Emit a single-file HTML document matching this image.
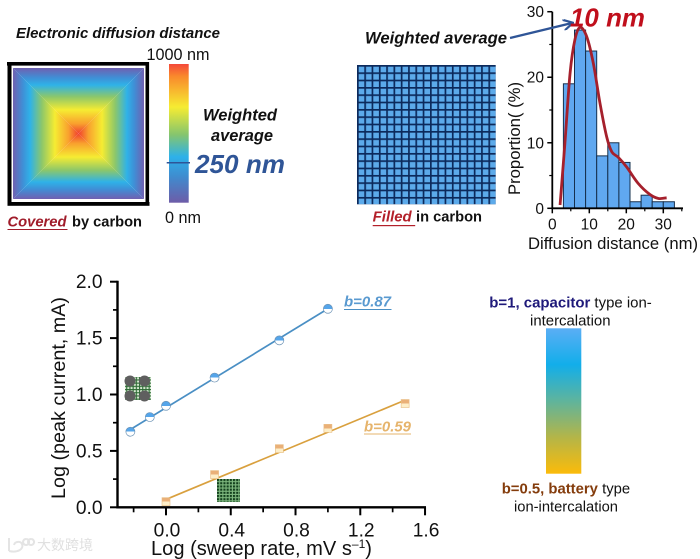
<!DOCTYPE html>
<html>
<head>
<meta charset="utf-8">
<style>
html,body{margin:0;padding:0;background:#fff;width:700px;height:559px;overflow:hidden}
svg{display:block}
text{font-family:"Liberation Sans","Noto Sans CJK SC",sans-serif;fill:#111}
.bi{font-weight:bold;font-style:italic}
.b{font-weight:bold}
</style>
</head>
<body>
<svg id="figure" xmlns="http://www.w3.org/2000/svg" width="700" height="559" viewBox="0 0 700 559">
<defs>
<linearGradient id="colorbar-grad" x1="0" y1="0" x2="0" y2="1">
<stop offset="0" stop-color="#f4483a"/><stop offset=".09" stop-color="#f98a2c"/><stop offset=".31" stop-color="#f6ec32"/><stop offset=".51" stop-color="#85c56e"/><stop offset=".67" stop-color="#2db1ea"/><stop offset=".81" stop-color="#3f8ccf"/><stop offset="1" stop-color="#6d5ca8"/>
</linearGradient>
<linearGradient id="sq-stops">
<stop offset="0" stop-color="#7060b0"/><stop offset=".15" stop-color="#3f8fd6"/><stop offset=".26" stop-color="#2fb2e8"/><stop offset=".44" stop-color="#8cc76a"/><stop offset=".64" stop-color="#f6ec32"/><stop offset=".85" stop-color="#f9a02e"/><stop offset="1" stop-color="#f0402f"/>
</linearGradient>
<linearGradient id="sq-top" href="#sq-stops" gradientUnits="userSpaceOnUse" x1="0" y1="68" x2="0" y2="133.5"/>
<linearGradient id="sq-bottom" href="#sq-stops" gradientUnits="userSpaceOnUse" x1="0" y1="199" x2="0" y2="133.5"/>
<linearGradient id="sq-left" href="#sq-stops" gradientUnits="userSpaceOnUse" x1="13" y1="0" x2="78.5" y2="0"/>
<linearGradient id="sq-right" href="#sq-stops" gradientUnits="userSpaceOnUse" x1="144" y1="0" x2="78.5" y2="0"/>
<linearGradient id="b-grad" x1="0" y1="0" x2="0" y2="1">
<stop offset="0" stop-color="#5aaef5"/><stop offset=".25" stop-color="#12aeea"/><stop offset=".5" stop-color="#5fb49c"/><stop offset=".75" stop-color="#b4b548"/><stop offset="1" stop-color="#fbbb0a"/>
</linearGradient>
<linearGradient id="half-blue" x1="0" y1="0" x2="0" y2="1">
<stop offset=".5" stop-color="#55a5ea"/><stop offset=".5" stop-color="#fff"/>
</linearGradient>
<linearGradient id="half-orange" x1="0" y1="0" x2="0" y2="1">
<stop offset=".5" stop-color="#eab078"/><stop offset=".5" stop-color="#fdeec8"/>
</linearGradient>
<pattern id="grid-cell" patternUnits="userSpaceOnUse" x="357" y="65" width="7.3" height="7.33">
<rect width="7.3" height="7.33" fill="#5caaea"/>
<rect x="0" y="0" width="7.3" height="1.7" fill="#0c2a5c"/>
<rect x="0" y="0" width="1.7" height="7.33" fill="#0c2a5c"/>
</pattern>
<pattern id="dot-cell" patternUnits="userSpaceOnUse" x="217" y="479" width="3.2" height="3.2">
<rect width="3.2" height="3.2" fill="#7fb97f"/>
<rect width="2.1" height="2.1" fill="#123f1c"/>
</pattern>
<pattern id="mesh-cell" patternUnits="userSpaceOnUse" x="123" y="373" width="3.2" height="3.2">
<rect width="3.2" height="3.2" fill="#d5e8d0"/>
<rect width="3.2" height="1.1" fill="#2e6b35"/>
<rect width="1.1" height="3.2" fill="#2e6b35"/>
</pattern>
<marker id="arrow-head" viewBox="0 0 10 10" refX="8" refY="5" markerWidth="11" markerHeight="11" orient="auto" markerUnits="userSpaceOnUse">
<path d="M0 0L9 5L0 10" fill="none" stroke="#2f5597" stroke-width="2"/>
</marker>
</defs>
<rect width="700" height="559" fill="#fff"/>

<!-- Covered panel -->
<text class="bi" x="16" y="38" font-size="14.9" textLength="204" lengthAdjust="spacingAndGlyphs">Electronic diffusion distance</text>
<g>
<polygon points="13,68 144,68 78.5,133.5" fill="url(#sq-top)"/>
<polygon points="13,199 144,199 78.5,133.5" fill="url(#sq-bottom)"/>
<polygon points="13,68 13,199 78.5,133.5" fill="url(#sq-left)"/>
<polygon points="144,68 144,199 78.5,133.5" fill="url(#sq-right)"/>
<rect x="7" y="62" width="142" height="3.6" fill="#000"/>
<rect x="7.5" y="62" width="4" height="143.5" fill="#000"/>
<rect x="145.5" y="62" width="3.6" height="143.5" fill="#000"/>
<rect x="7.5" y="202" width="142" height="3.8" fill="#000"/>
</g>
<text class="bi" x="7.5" y="226.5" font-size="14.7" textLength="59" lengthAdjust="spacingAndGlyphs" style="fill:#a01c2a">Covered</text>
<rect x="7.5" y="229" width="60" height="1" fill="#a01c2a"/>
<text class="b" x="72" y="226.5" font-size="14.6" textLength="70" lengthAdjust="spacingAndGlyphs">by carbon</text>
<rect x="169" y="64" width="19.7" height="138.7" fill="url(#colorbar-grad)"/>
<text x="146.5" y="60" font-size="16.2" textLength="63" lengthAdjust="spacingAndGlyphs">1000 nm</text>
<text x="165" y="223" font-size="16.2" textLength="36" lengthAdjust="spacingAndGlyphs">0 nm</text>
<text class="bi" x="203" y="120.5" font-size="16.4" textLength="74" lengthAdjust="spacingAndGlyphs">Weighted</text>
<text class="bi" x="211" y="141" font-size="16.4" textLength="62" lengthAdjust="spacingAndGlyphs">average</text>
<line x1="166.7" x2="190" y1="162.7" y2="162.7" stroke="#2f5597" stroke-width="1.5"/>
<text class="bi" x="195" y="173" font-size="26" textLength="90" lengthAdjust="spacingAndGlyphs" style="fill:#2f5597">250 nm</text>

<!-- Filled panel -->
<rect x="357" y="65" width="138.7" height="139.3" fill="url(#grid-cell)"/>
<text class="bi" x="372.7" y="221.7" font-size="14.9" textLength="39" lengthAdjust="spacingAndGlyphs" style="fill:#b3202a">Filled</text>
<rect x="372.7" y="225" width="42.5" height="1.2" fill="#b3202a"/>
<text class="b" x="416" y="221.7" font-size="14.6" textLength="66" lengthAdjust="spacingAndGlyphs">in carbon</text>
<text class="bi" x="365" y="43.5" font-size="16.6" textLength="142" lengthAdjust="spacingAndGlyphs">Weighted average</text>

<!-- Histogram -->
<g id="hist"></g>
<path d="M510 38L572 23" stroke="#2f5597" stroke-width="2.4" fill="none" marker-end="url(#arrow-head)"/>
<text class="bi" x="570" y="26.7" font-size="26" textLength="75" lengthAdjust="spacingAndGlyphs" style="fill:#c00f1c">10 nm</text>
<text transform="translate(520,195) rotate(-90)" font-size="16.2" textLength="113" lengthAdjust="spacingAndGlyphs">Proportion( (%)</text>
<text x="528" y="249" font-size="16.6" textLength="170" lengthAdjust="spacingAndGlyphs">Diffusion distance (nm)</text>

<!-- Log-log chart -->
<g id="main"></g>
<text transform="translate(65,499) rotate(-90)" font-size="19.7" textLength="202" lengthAdjust="spacingAndGlyphs">Log (peak current, mA)</text>
<text x="151" y="555" font-size="20" textLength="221" lengthAdjust="spacingAndGlyphs">Log (sweep rate, mV s<tspan dy="-7" font-size="12">–1</tspan><tspan dy="7">)</tspan></text>
<text class="bi" x="344" y="306.5" font-size="15" textLength="47" lengthAdjust="spacingAndGlyphs" style="fill:#5a9ad0">b=0.87</text>
<rect x="344" y="309" width="47.5" height="1" fill="#4a8fc4"/>
<text class="bi" x="364" y="431.5" font-size="15" textLength="47" lengthAdjust="spacingAndGlyphs" style="fill:#e6b46c">b=0.59</text>
<rect x="364" y="433.5" width="47" height="1" fill="#e6b46c"/>
<g>
<rect x="125" y="377" width="26" height="23" fill="url(#mesh-cell)"/>
<circle cx="130" cy="381" r="5.5" fill="#5f5f5f"/>
<circle cx="144.5" cy="381" r="5.5" fill="#5f5f5f"/>
<circle cx="130" cy="396" r="5.5" fill="#5f5f5f"/>
<circle cx="144.5" cy="396" r="5.5" fill="#5f5f5f"/>
</g>
<rect x="217" y="479" width="23" height="23" fill="url(#dot-cell)"/>

<!-- b-value legend -->
<text x="489.3" y="307.5" font-size="15" textLength="162.5" lengthAdjust="spacingAndGlyphs"><tspan class="b" style="fill:#1f1a7a">b=1, capacitor</tspan> type ion-</text>
<text x="530" y="325.5" font-size="15" textLength="80.5" lengthAdjust="spacingAndGlyphs">intercalation</text>
<rect x="546" y="328.3" width="35.3" height="145.4" fill="url(#b-grad)"/>
<text x="501.7" y="493.3" font-size="15" textLength="128.5" lengthAdjust="spacingAndGlyphs"><tspan class="b" style="fill:#843c0c">b=0.5, battery</tspan> type</text>
<text x="514" y="511.5" font-size="15" textLength="104" lengthAdjust="spacingAndGlyphs">ion-intercalation</text>

<!-- Watermark -->
<g>
<path d="M9 538V551M9 551C18 553 24 549 22 544C21 541 15 541 14 545M26 539a3 3 0 1 0 .1 0M31 539a3 3 0 1 0 .1 0" fill="none" stroke="#e4e4e4" stroke-width="2"/>
<text x="37" y="550" font-size="14" textLength="56" style="fill:#e0e0e0">大数跨境</text>
</g>
</svg>
<script>
var histBinStarts = [3, 6, 9, 12, 15, 18, 21, 24, 27, 30];
var histValues = [19, 27.2, 24, 8, 10, 7, 1, 2, 1, 1];
var histBinWidth = 3;
var curveX = [2.1, 3.4, 4.8, 6.1, 7.5, 9.3, 11.1, 12.9, 14.7, 16.1, 17.8, 20.1, 23.2, 26.4, 28.7, 30.9];
var curveY = [0.5, 9.9, 20.6, 25.7, 27.6, 26.2, 22.1, 16, 10.9, 8.6, 7.8, 6.3, 3.8, 2.1, 1.5, 1.6];
var histYTicks = ["0", "10", "20", "30"];
var histXTicks = ["0", "10", "20", "30"];
var blueX = [-0.22, -0.1, 0, 0.3, 0.7, 1.0];
var blueY = [0.67, 0.8, 0.9, 1.15, 1.48, 1.76];
var blueFitX = [-0.22, 1.0];
var blueFitY = [0.69, 1.76];
var orangeX = [0, 0.3, 0.7, 1.0, 1.477];
var orangeY = [0.05, 0.29, 0.52, 0.70, 0.92];
var orangeFitX = [0, 1.477];
var orangeFitY = [0.07, 0.95];
var mainYTicks = ["0.0", "0.5", "1.0", "1.5", "2.0"];
var mainXTicks = ["0.0", "0.4", "0.8", "1.2", "1.6"];

var NS = 'http://www.w3.org/2000/svg';
function mk(tag, attrs, parent, txt) {
  var n = document.createElementNS(NS, tag);
  for (var k in attrs) n.setAttribute(k, attrs[k]);
  if (txt !== undefined) n.textContent = txt;
  parent.appendChild(n);
  return n;
}
function hx(v) { return 552.3 + v * 3.7; }
function hy(v) { return 208.3 - v * 6.553; }
function mx(v) { return 166 + v * 161.9; }
function my(v) { return 507.3 - v * 112.8; }

var hist = document.getElementById('hist');
var main = document.getElementById('main');
var el, i;

for (i = 0; i < histValues.length; i++) {
  el = mk('rect', {x: hx(histBinStarts[i]), y: hy(histValues[i]), width: hx(histBinWidth) - hx(0), height: hy(0) - hy(histValues[i]), fill: '#60a8f0', stroke: '#16304e', 'stroke-width': 1}, hist);
  
  
}
var d = '';
for (i = 0; i < curveX.length; i++) {
  var p1x = hx(curveX[i]), p1y = hy(curveY[i]);
  if (i === 0) { d = 'M' + p1x + ' ' + p1y; continue; }
  var a = Math.max(i - 2, 0), b = i - 1, c = Math.min(i + 1, curveX.length - 1);
  var p0x = hx(curveX[b]), p0y = hy(curveY[b]);
  var c1x = p0x + (p1x - hx(curveX[a])) / 6, c1y = p0y + (p1y - hy(curveY[a])) / 6;
  var c2x = p1x - (hx(curveX[c]) - p0x) / 6, c2y = p1y - (hy(curveY[c]) - p0y) / 6;
  d += 'C' + c1x + ' ' + c1y + ' ' + c2x + ' ' + c2y + ' ' + p1x + ' ' + p1y;
}
el = mk('path', {d: d, fill: 'none', stroke: '#a5202c', 'stroke-width': 2.8}, hist);



el = mk('path', {d: 'M' + hx(0) + ' ' + hy(30) + 'V' + hy(0) + 'H683', fill: 'none', stroke: '#000', 'stroke-width': 1.8}, hist);



for (i = 0; i < histYTicks.length; i++) {
  var hv = Number(histYTicks[i]);
  el = mk('line', {x1: hx(0) - 5, x2: hx(0), y1: hy(hv), y2: hy(hv), stroke: '#000', 'stroke-width': 1.5}, hist);
  
  
  if (i < histYTicks.length - 1) {
    el = mk('line', {x1: hx(0) - 3, x2: hx(0), y1: hy(hv + 5), y2: hy(hv + 5), stroke: '#000', 'stroke-width': 1.2}, hist);
    
    
  }
  el = mk('text', {x: 544, y: hy(hv) + 5.5, 'text-anchor': 'end', 'font-size': 15.5}, hist, histYTicks[i]);
  
  
}
for (i = 0; i < histXTicks.length; i++) {
  var hu = Number(histXTicks[i]);
  el = mk('line', {x1: hx(hu), x2: hx(hu), y1: hy(0), y2: hy(0) + 5, stroke: '#000', 'stroke-width': 1.5}, hist);
  
  
  el = mk('line', {x1: hx(hu + 5), x2: hx(hu + 5), y1: hy(0), y2: hy(0) + 3, stroke: '#000', 'stroke-width': 1.2}, hist);
  
  
  el = mk('text', {x: hx(hu), y: 229.3, 'text-anchor': 'middle', 'font-size': 15.5}, hist, histXTicks[i]);
  
  
}

// main chart
el = mk('path', {d: 'M' + mx(blueFitX[0]) + ' ' + my(blueFitY[0]) + 'L' + mx(blueFitX[1]) + ' ' + my(blueFitY[1]), stroke: '#4a8fc4', 'stroke-width': 1.7, fill: 'none'}, main);


el = mk('path', {d: 'M' + mx(orangeFitX[0]) + ' ' + my(orangeFitY[0]) + 'L' + mx(orangeFitX[1]) + ' ' + my(orangeFitY[1]), stroke: '#d9a03e', 'stroke-width': 1.7, fill: 'none'}, main);


for (i = 0; i < blueX.length; i++) {
  el = mk('circle', {cx: mx(blueX[i]), cy: my(blueY[i]), r: 4.5, fill: 'url(#half-blue)', stroke: '#6d93b5', 'stroke-width': 0.7}, main);
  
  
}
for (i = 0; i < orangeX.length; i++) {
  el = mk('rect', {x: mx(orangeX[i]) - 4, y: my(orangeY[i]) - 4, width: 8, height: 8, fill: 'url(#half-orange)', stroke: '#e8bd84', 'stroke-width': 0.6}, main);
  
  
}
el = mk('path', {d: 'M117.5 ' + (my(2) - 1) + 'V' + my(0) + 'H426', fill: 'none', stroke: '#000', 'stroke-width': 2.4}, main);


for (i = 0; i < mainYTicks.length; i++) {
  var mv = Number(mainYTicks[i]);
  el = mk('line', {x1: 110, x2: 117.5, y1: my(mv), y2: my(mv), stroke: '#000', 'stroke-width': 2}, main);
  
  
  if (i < mainYTicks.length - 1) {
    el = mk('line', {x1: 113, x2: 117.5, y1: my(mv + 0.25), y2: my(mv + 0.25), stroke: '#000', 'stroke-width': 1.7}, main);
    
    
  }
  el = mk('text', {x: 102.5, y: my(mv) + 6.5, 'text-anchor': 'end', 'font-size': 19.2}, main, mainYTicks[i]);
  
  
}
for (i = 0; i < mainXTicks.length; i++) {
  var mu = Number(mainXTicks[i]);
  el = mk('line', {x1: mx(mu), x2: mx(mu), y1: my(0), y2: my(0) + 8, stroke: '#000', 'stroke-width': 2}, main);
  
  
  el = mk('line', {x1: mx(mu - 0.2), x2: mx(mu - 0.2), y1: my(0), y2: my(0) + 5, stroke: '#000', 'stroke-width': 1.7}, main);
  
  
  el = mk('text', {x: mx(mu) + 1, y: 536.5, 'text-anchor': 'middle', 'font-size': 19.2}, main, mainXTicks[i]);
  
  
}
</script>
</body>
</html>
